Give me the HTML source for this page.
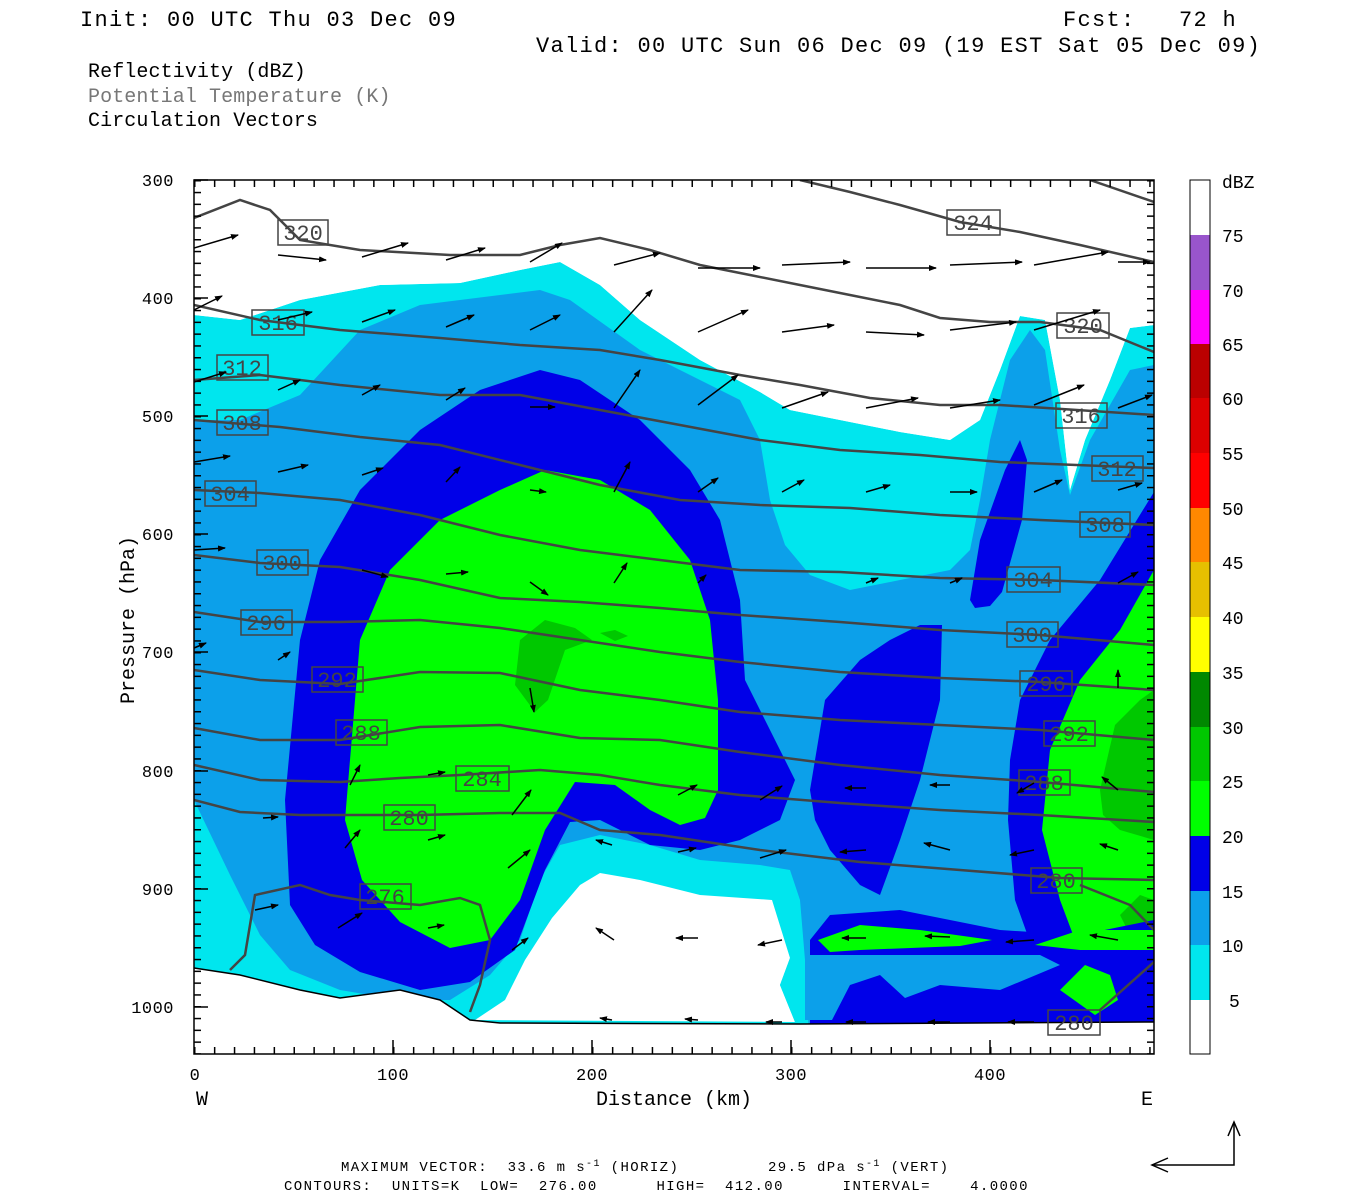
<!DOCTYPE html>
<html><head><meta charset="utf-8"><style>
html,body{margin:0;padding:0;background:#fff;}
svg{display:block;}
text{font-family:"Liberation Mono",monospace;white-space:pre;}
</style></head><body>
<svg width="1350" height="1200" viewBox="0 0 1350 1200" xmlns="http://www.w3.org/2000/svg" xml:space="preserve">
<defs>
<marker id="ah" markerWidth="8" markerHeight="6" refX="7" refY="3" orient="auto" markerUnits="userSpaceOnUse">
<path d="M0,0 L8,3 L0,6 Z" fill="#000"/></marker>
<pattern id="ytk" x="0" y="180" width="8" height="11.8" patternUnits="userSpaceOnUse"><rect x="0" y="0" width="8" height="1.5" fill="#000"/></pattern>
<pattern id="xtk" x="194" y="0" width="19.9" height="8" patternUnits="userSpaceOnUse"><rect x="0" y="0" width="1.5" height="8" fill="#000"/></pattern>
<clipPath id="pc"><rect x="194" y="180" width="960" height="874"/></clipPath>
</defs>

<g fill="#000" font-size="22" letter-spacing="1.3">
<text x="80" y="26">Init: 00 UTC Thu 03 Dec 09</text>
<text x="1063" y="26">Fcst:   72 h</text>
<text x="536" y="52">Valid: 00 UTC Sun 06 Dec 09 (19 EST Sat 05 Dec 09)</text>
</g>
<g font-size="20" letter-spacing="0.1">
<text x="88" y="77" fill="#000">Reflectivity (dBZ)</text>
<text x="88" y="102" fill="#777">Potential Temperature (K)</text>
<text x="88" y="126" fill="#000">Circulation Vectors</text>
</g>

<g clip-path="url(#pc)">
<path fill="#00e6ee" d="M194,315 L240,320 L300,300 L380,285 L460,283 L520,270 L560,262 L600,285 L640,320 L700,360 L760,392 L790,410 L840,420 L900,432 L950,440 L980,420 L1000,370 L1020,316 L1045,320 L1060,400 L1070,490 L1085,440 L1110,380 L1130,328 L1154,325 L1154,1054 L194,1054 Z"/>
<path fill="#0ca0ea" d="M194,420 L240,420 L300,395 L360,330 L420,305 L500,295 L540,290 L570,300 L640,350 L700,380 L740,400 L760,440 L770,500 L785,545 L810,575 L850,590 L900,580 L950,570 L970,550 L980,500 L990,440 L1010,360 L1030,330 L1045,350 L1060,450 L1070,495 L1090,440 L1130,370 L1154,365 L1154,1054 L810,1054 L805,960 L800,900 L790,870 L760,865 L700,860 L650,845 L600,835 L560,845 L540,880 L520,940 L490,975 L450,1000 L400,1000 L340,990 L290,970 L260,935 L230,875 L194,800 Z"/>
<path fill="#0000e8" d="M290,905 L285,800 L300,640 L320,560 L360,490 L420,430 L480,390 L540,370 L580,380 L640,420 L690,470 L720,520 L740,600 L745,680 L770,730 L795,780 L780,820 L740,840 L700,850 L650,845 L600,820 L570,822 L545,870 L515,950 L470,982 L420,990 L360,972 L315,945 Z"/>
<path fill="#00ff00" d="M350,760 L360,640 L390,570 L440,520 L500,490 L545,470 L600,480 L650,510 L690,560 L710,620 L718,700 L718,790 L705,818 L680,825 L650,810 L615,785 L575,782 L545,830 L520,900 L490,940 L450,948 L400,922 L362,880 L345,820 Z"/>
<path fill="#00c800" d="M520,640 L545,620 L575,628 L592,640 L565,650 L548,700 L535,712 L515,685 Z"/>
<path fill="#00c800" d="M600,633 L615,630 L628,636 L615,641 Z"/>
<path fill="#0000e8" d="M810,790 L825,700 L860,660 L890,640 L920,625 L942,625 L940,700 L920,780 L900,840 L880,895 L860,885 L830,850 L815,820 Z"/>
<path fill="#0000e8" d="M970,600 L980,540 L1005,470 L1020,440 L1027,460 L1022,520 L1002,592 L990,606 L975,608 Z"/>
<path fill="#0000e8" d="M1010,760 L1020,700 L1050,640 L1100,580 L1154,492 L1154,1020 L1080,1020 L1040,970 L1015,900 L1008,820 Z"/>
<path fill="#00ff00" d="M1042,830 L1050,750 L1080,680 L1120,630 L1154,570 L1154,1000 L1100,1010 L1070,985 L1075,940 L1060,900 Z"/>
<path fill="#00c800" d="M1100,790 L1115,725 L1140,700 L1154,690 L1154,840 L1120,830 L1103,815 Z"/>
<path fill="#00c800" d="M1120,915 L1140,895 L1154,900 L1154,935 L1130,935 Z"/>
<path fill="#0000e8" d="M810,940 L830,915 L900,910 L1000,930 L1080,935 L1154,920 L1154,1054 L810,1054 Z"/>
<path fill="#00ff00" d="M1035,945 L1080,930 L1154,930 L1154,950 L1080,950 Z"/>
<path fill="#00ff00" d="M818,940 L860,925 L920,930 L992,940 L960,946 L860,950 L830,952 Z"/>
<path fill="#0ca0ea" d="M805,955 L1040,955 L1060,965 L1000,990 L940,985 L905,998 L880,975 L850,985 L832,1020 L805,1020 Z"/>
<path fill="#00ff00" d="M1060,990 L1085,965 L1110,975 L1118,1000 L1095,1015 Z"/>
<path fill="#fff" d="M194,180 L1154,180 L1154,325 L1130,328 L1110,380 L1085,440 L1070,490 L1060,400 L1045,320 L1020,316 L1000,370 L980,420 L950,440 L900,432 L840,420 L790,410 L760,392 L700,360 L640,320 L600,285 L560,262 L520,270 L460,283 L380,285 L300,300 L240,320 L194,315 Z"/>
<path fill="#fff" d="M475,1020 L505,1000 L525,960 L552,918 L580,885 L600,873 L640,880 L700,895 L772,900 L790,958 L780,985 L795,1022 Z"/>
<path fill="#00e6ee" d="M790,958 L800,960 L805,1022 L795,1022 L780,985 Z"/>
<path fill="#fff" d="M194,968 L240,975 L300,990 L340,998 L400,990 L440,1000 L470,1020 L500,1023 L800,1024 L1154,1022 L1154,1054 L194,1054 Z"/>
<path fill="none" stroke="#000" stroke-width="1.5" d="M194,968 L240,975 L300,990 L340,998 L400,990 L440,1000 L470,1020 L500,1023 L800,1024 L1154,1022"/>

<g fill="none" stroke="#444" stroke-width="2.5">
<polyline points="194,218 240,200 270,210 300,240 360,250 450,255 520,255 560,245 600,238 650,250 700,265 750,275 800,285 850,295 900,305 940,318 990,322 1040,322 1100,330 1154,352"/>
<polyline points="800,180 850,192 900,205 960,222 1020,232 1080,245 1154,262"/>
<polyline points="1090,180 1154,202"/>
<polyline points="194,305 260,320 340,330 440,338 520,345 600,350 660,360 740,375 800,385 870,398 940,405 1000,405 1154,415"/>
<polyline points="194,380 260,375 340,385 440,395 520,395 600,410 680,425 760,440 840,450 920,455 1000,462 1154,468"/>
<polyline points="194,420 280,427 360,437 440,445 520,465 600,485 680,500 760,505 850,508 940,515 1040,520 1154,525"/>
<polyline points="194,490 260,493 340,500 420,515 500,535 580,550 660,560 740,570 840,572 940,578 1040,580 1154,585"/>
<polyline points="194,555 260,563 340,567 420,580 500,598 580,602 660,608 740,615 840,622 940,630 1040,635 1154,645"/>
<polyline points="194,612 260,622 340,622 420,620 500,628 580,640 660,652 740,662 840,672 940,678 1040,682 1154,690"/>
<polyline points="194,670 260,680 340,684 420,672 500,673 580,690 660,700 740,712 840,720 940,725 1040,730 1154,740"/>
<polyline points="194,728 260,740 340,740 420,727 500,725 580,738 660,740 740,752 840,765 940,775 1040,782 1154,792"/>
<polyline points="194,765 260,780 340,782 400,778 460,775 540,770 600,775 660,785 740,795 840,803 940,810 1040,815 1154,822"/>
<polyline points="194,800 240,812 300,815 360,815 420,815 500,813 560,813 600,830 660,835 760,850 860,862 960,870 1060,878 1154,880"/>
<polyline points="230,970 245,955 255,895 300,885 330,895 360,900 420,905 460,898 480,905 490,940 480,985 470,1012"/>
<polyline points="1080,885 1130,905 1154,930"/>
<polyline points="1100,1010 1154,962"/>
</g>
<g fill="none" stroke="#444" stroke-width="1.5">
<rect x="278" y="220" width="50" height="25"/><rect x="252" y="310" width="52" height="25"/>
<rect x="217" y="355" width="51" height="25"/><rect x="217" y="410" width="51" height="25"/>
<rect x="205" y="481" width="51" height="25"/><rect x="257" y="550" width="51" height="25"/>
<rect x="241" y="610" width="51" height="25"/><rect x="312" y="667" width="51" height="25"/>
<rect x="336" y="720" width="51" height="25"/><rect x="456" y="766" width="53" height="25"/>
<rect x="384" y="805" width="51" height="25"/><rect x="360" y="884" width="51" height="25"/>
<rect x="947" y="210" width="53" height="25"/><rect x="1057" y="313" width="52" height="25"/>
<rect x="1056" y="403" width="51" height="25"/><rect x="1092" y="456" width="51" height="25"/>
<rect x="1080" y="512" width="50" height="25"/><rect x="1007" y="567" width="53" height="25"/>
<rect x="1007" y="622" width="51" height="25"/><rect x="1020" y="671" width="52" height="25"/>
<rect x="1044" y="721" width="51" height="25"/><rect x="1019" y="770" width="51" height="25"/>
<rect x="1031" y="868" width="51" height="25"/><rect x="1048" y="1010" width="52" height="25"/>
</g>
<g fill="#444" font-size="22" text-anchor="middle">
<text x="303" y="240">320</text><text x="278" y="330">316</text><text x="242" y="375">312</text>
<text x="242" y="430">308</text><text x="230" y="501">304</text><text x="282" y="570">300</text>
<text x="266" y="630">296</text><text x="337" y="687">292</text><text x="361" y="740">288</text>
<text x="482" y="786">284</text><text x="409" y="825">280</text><text x="385" y="904">276</text>
<text x="973" y="230">324</text><text x="1083" y="333">320</text><text x="1081" y="423">316</text>
<text x="1117" y="476">312</text><text x="1105" y="532">308</text><text x="1033" y="587">304</text>
<text x="1032" y="642">300</text><text x="1046" y="691">296</text><text x="1069" y="741">292</text>
<text x="1044" y="790">288</text><text x="1056" y="888">280</text><text x="1074" y="1030">280</text>
</g>
<g stroke="#000" stroke-width="1.5" marker-end="url(#ah)">
<line x1="194" y1="248" x2="238" y2="235"/><line x1="278" y1="255" x2="326" y2="260"/><line x1="362" y1="257" x2="408" y2="243"/><line x1="446" y1="260" x2="485" y2="248"/><line x1="530" y1="262" x2="562" y2="243"/><line x1="614" y1="265" x2="660" y2="253"/><line x1="698" y1="268" x2="760" y2="268"/><line x1="782" y1="265" x2="850" y2="262"/><line x1="866" y1="268" x2="936" y2="268"/><line x1="950" y1="265" x2="1022" y2="262"/><line x1="1034" y1="265" x2="1108" y2="252"/><line x1="1118" y1="262" x2="1150" y2="262"/>
<line x1="194" y1="310" x2="222" y2="296"/><line x1="278" y1="320" x2="312" y2="312"/><line x1="362" y1="322" x2="395" y2="310"/><line x1="446" y1="327" x2="474" y2="315"/><line x1="530" y1="330" x2="560" y2="315"/><line x1="614" y1="332" x2="652" y2="290"/><line x1="698" y1="332" x2="748" y2="310"/><line x1="782" y1="332" x2="834" y2="325"/><line x1="866" y1="332" x2="924" y2="335"/><line x1="950" y1="330" x2="1016" y2="322"/><line x1="1034" y1="330" x2="1100" y2="310"/>
<line x1="194" y1="382" x2="226" y2="372"/><line x1="278" y1="390" x2="300" y2="380"/><line x1="362" y1="395" x2="380" y2="385"/><line x1="446" y1="400" x2="465" y2="388"/><line x1="530" y1="407" x2="555" y2="407"/><line x1="614" y1="408" x2="640" y2="370"/><line x1="698" y1="405" x2="738" y2="375"/><line x1="782" y1="408" x2="828" y2="392"/><line x1="866" y1="408" x2="918" y2="398"/><line x1="950" y1="408" x2="1000" y2="400"/><line x1="1034" y1="405" x2="1084" y2="385"/><line x1="1118" y1="408" x2="1152" y2="395"/>
<line x1="194" y1="462" x2="230" y2="456"/><line x1="278" y1="472" x2="308" y2="465"/><line x1="362" y1="475" x2="383" y2="468"/><line x1="446" y1="482" x2="460" y2="467"/><line x1="530" y1="490" x2="546" y2="492"/><line x1="614" y1="492" x2="630" y2="462"/><line x1="698" y1="492" x2="718" y2="478"/><line x1="782" y1="492" x2="804" y2="480"/><line x1="866" y1="492" x2="890" y2="485"/><line x1="950" y1="492" x2="977" y2="492"/><line x1="1034" y1="492" x2="1062" y2="480"/><line x1="1118" y1="490" x2="1142" y2="483"/>
<line x1="194" y1="550" x2="225" y2="548"/><line x1="362" y1="570" x2="388" y2="577"/><line x1="446" y1="574" x2="468" y2="572"/><line x1="530" y1="582" x2="548" y2="595"/><line x1="614" y1="583" x2="627" y2="563"/><line x1="698" y1="583" x2="706" y2="575"/><line x1="866" y1="583" x2="878" y2="578"/><line x1="950" y1="583" x2="962" y2="578"/><line x1="1118" y1="583" x2="1138" y2="572"/>
<line x1="194" y1="648" x2="206" y2="643"/><line x1="278" y1="660" x2="290" y2="652"/><line x1="1118" y1="688" x2="1118" y2="670"/><line x1="530" y1="688" x2="534" y2="712"/>
<line x1="350" y1="785" x2="360" y2="765"/><line x1="428" y1="775" x2="445" y2="772"/><line x1="512" y1="815" x2="531" y2="790"/><line x1="678" y1="795" x2="697" y2="785"/><line x1="760" y1="800" x2="782" y2="786"/><line x1="866" y1="788" x2="845" y2="788"/><line x1="950" y1="785" x2="930" y2="785"/><line x1="1034" y1="783" x2="1017" y2="793"/><line x1="1118" y1="790" x2="1102" y2="777"/>
<line x1="263" y1="818" x2="278" y2="817"/><line x1="345" y1="848" x2="360" y2="830"/><line x1="428" y1="840" x2="445" y2="835"/><line x1="508" y1="868" x2="530" y2="850"/><line x1="612" y1="845" x2="596" y2="840"/><line x1="678" y1="852" x2="696" y2="848"/><line x1="760" y1="858" x2="786" y2="850"/><line x1="866" y1="850" x2="840" y2="852"/><line x1="950" y1="850" x2="924" y2="843"/><line x1="1034" y1="850" x2="1010" y2="855"/><line x1="1118" y1="850" x2="1100" y2="844"/>
<line x1="255" y1="910" x2="278" y2="905"/><line x1="338" y1="928" x2="362" y2="913"/><line x1="428" y1="928" x2="444" y2="925"/><line x1="512" y1="950" x2="528" y2="938"/><line x1="614" y1="940" x2="596" y2="928"/><line x1="698" y1="938" x2="676" y2="938"/><line x1="782" y1="940" x2="758" y2="945"/><line x1="866" y1="938" x2="842" y2="938"/><line x1="950" y1="937" x2="925" y2="936"/><line x1="1034" y1="940" x2="1006" y2="942"/><line x1="1118" y1="940" x2="1090" y2="935"/>
<line x1="612" y1="1020" x2="600" y2="1018"/><line x1="698" y1="1020" x2="685" y2="1019"/><line x1="782" y1="1022" x2="766" y2="1022"/><line x1="866" y1="1022" x2="846" y2="1022"/><line x1="950" y1="1022" x2="928" y2="1022"/><line x1="1034" y1="1022" x2="1008" y2="1022"/>
</g>
</g>

<rect x="194" y="180" width="960" height="874" fill="none" stroke="#000" stroke-width="1.5"/>
<rect x="194" y="180" width="7" height="874" fill="url(#ytk)"/>
<rect x="1147" y="180" width="7" height="874" fill="url(#ytk)"/>
<rect x="194" y="1047" width="960" height="7" fill="url(#xtk)"/>
<rect x="194" y="180" width="960" height="7" fill="url(#xtk)"/>
<g stroke="#000" stroke-width="1.5">
<line x1="194" y1="180" x2="208" y2="180"/><line x1="194" y1="298" x2="208" y2="298"/><line x1="194" y1="416" x2="208" y2="416"/><line x1="194" y1="534" x2="208" y2="534"/><line x1="194" y1="652" x2="208" y2="652"/><line x1="194" y1="771" x2="208" y2="771"/><line x1="194" y1="889" x2="208" y2="889"/><line x1="194" y1="1007" x2="208" y2="1007"/>
<line x1="393" y1="1040" x2="393" y2="1054"/><line x1="592" y1="1040" x2="592" y2="1054"/><line x1="791" y1="1040" x2="791" y2="1054"/><line x1="990" y1="1040" x2="990" y2="1054"/>
</g>
<g font-size="17" fill="#000" text-anchor="end" letter-spacing="0.5">
<text x="174" y="186">300</text><text x="174" y="304">400</text><text x="174" y="422">500</text><text x="174" y="540">600</text><text x="174" y="658">700</text><text x="174" y="777">800</text><text x="174" y="895">900</text><text x="174" y="1013">1000</text>
</g>
<g font-size="17" fill="#000" text-anchor="middle" letter-spacing="0.5">
<text x="195" y="1080">0</text><text x="393" y="1080">100</text><text x="592" y="1080">200</text><text x="791" y="1080">300</text><text x="990" y="1080">400</text>
</g>
<g font-size="20" fill="#000">
<text x="196" y="1105">W</text><text x="1141" y="1105">E</text>
<text x="674" y="1105" text-anchor="middle">Distance (km)</text>
<text transform="translate(134,620) rotate(-90)" text-anchor="middle">Pressure (hPa)</text>
</g>

<g stroke="none">
<rect x="1190" y="180" width="20" height="55" fill="#fff"/>
<rect x="1190" y="235" width="20" height="55" fill="#9955cc"/>
<rect x="1190" y="290" width="20" height="54" fill="#ff00ff"/>
<rect x="1190" y="344" width="20" height="54" fill="#bb0000"/>
<rect x="1190" y="398" width="20" height="55" fill="#dd0000"/>
<rect x="1190" y="453" width="20" height="55" fill="#ff0000"/>
<rect x="1190" y="508" width="20" height="54" fill="#ff8800"/>
<rect x="1190" y="562" width="20" height="55" fill="#e6c000"/>
<rect x="1190" y="617" width="20" height="55" fill="#ffff00"/>
<rect x="1190" y="672" width="20" height="55" fill="#008800"/>
<rect x="1190" y="727" width="20" height="54" fill="#00c800"/>
<rect x="1190" y="781" width="20" height="55" fill="#00ff00"/>
<rect x="1190" y="836" width="20" height="55" fill="#0000e8"/>
<rect x="1190" y="891" width="20" height="54" fill="#0ca0ea"/>
<rect x="1190" y="945" width="20" height="55" fill="#00e6ee"/>
<rect x="1190" y="1000" width="20" height="54" fill="#fff"/>
</g>
<rect x="1190" y="180" width="20" height="874" fill="none" stroke="#000" stroke-width="1"/>
<g font-size="18" fill="#000">
<text x="1222" y="188">dBZ</text>
<text x="1222" y="242">75</text><text x="1222" y="297">70</text><text x="1222" y="351">65</text><text x="1222" y="405">60</text><text x="1222" y="460">55</text><text x="1222" y="515">50</text><text x="1222" y="569">45</text><text x="1222" y="624">40</text><text x="1222" y="679">35</text><text x="1222" y="734">30</text><text x="1222" y="788">25</text><text x="1222" y="843">20</text><text x="1222" y="898">15</text><text x="1222" y="952">10</text><text x="1229" y="1007">5</text>
</g>

<g font-size="14" fill="#000" letter-spacing="1.4">
<text x="341" y="1171">MAXIMUM VECTOR:  33.6 m s<tspan dy="-5" font-size="10">-1</tspan><tspan dy="5"> (HORIZ)</tspan></text>
<text x="768" y="1171">29.5 dPa s<tspan dy="-5" font-size="10">-1</tspan><tspan dy="5"> (VERT)</tspan></text>
<text x="284" y="1190">CONTOURS:  UNITS=K  LOW=  276.00      HIGH=  412.00      INTERVAL=    4.0000</text>
</g>
<g stroke="#000" stroke-width="1.5" fill="none">
<polyline points="1152,1165 1234,1165 1234,1124"/>
<polyline points="1168,1158 1152,1165 1168,1172"/>
<polyline points="1228,1136 1234,1122 1240,1136"/>
</g>
</svg>
</body></html>
